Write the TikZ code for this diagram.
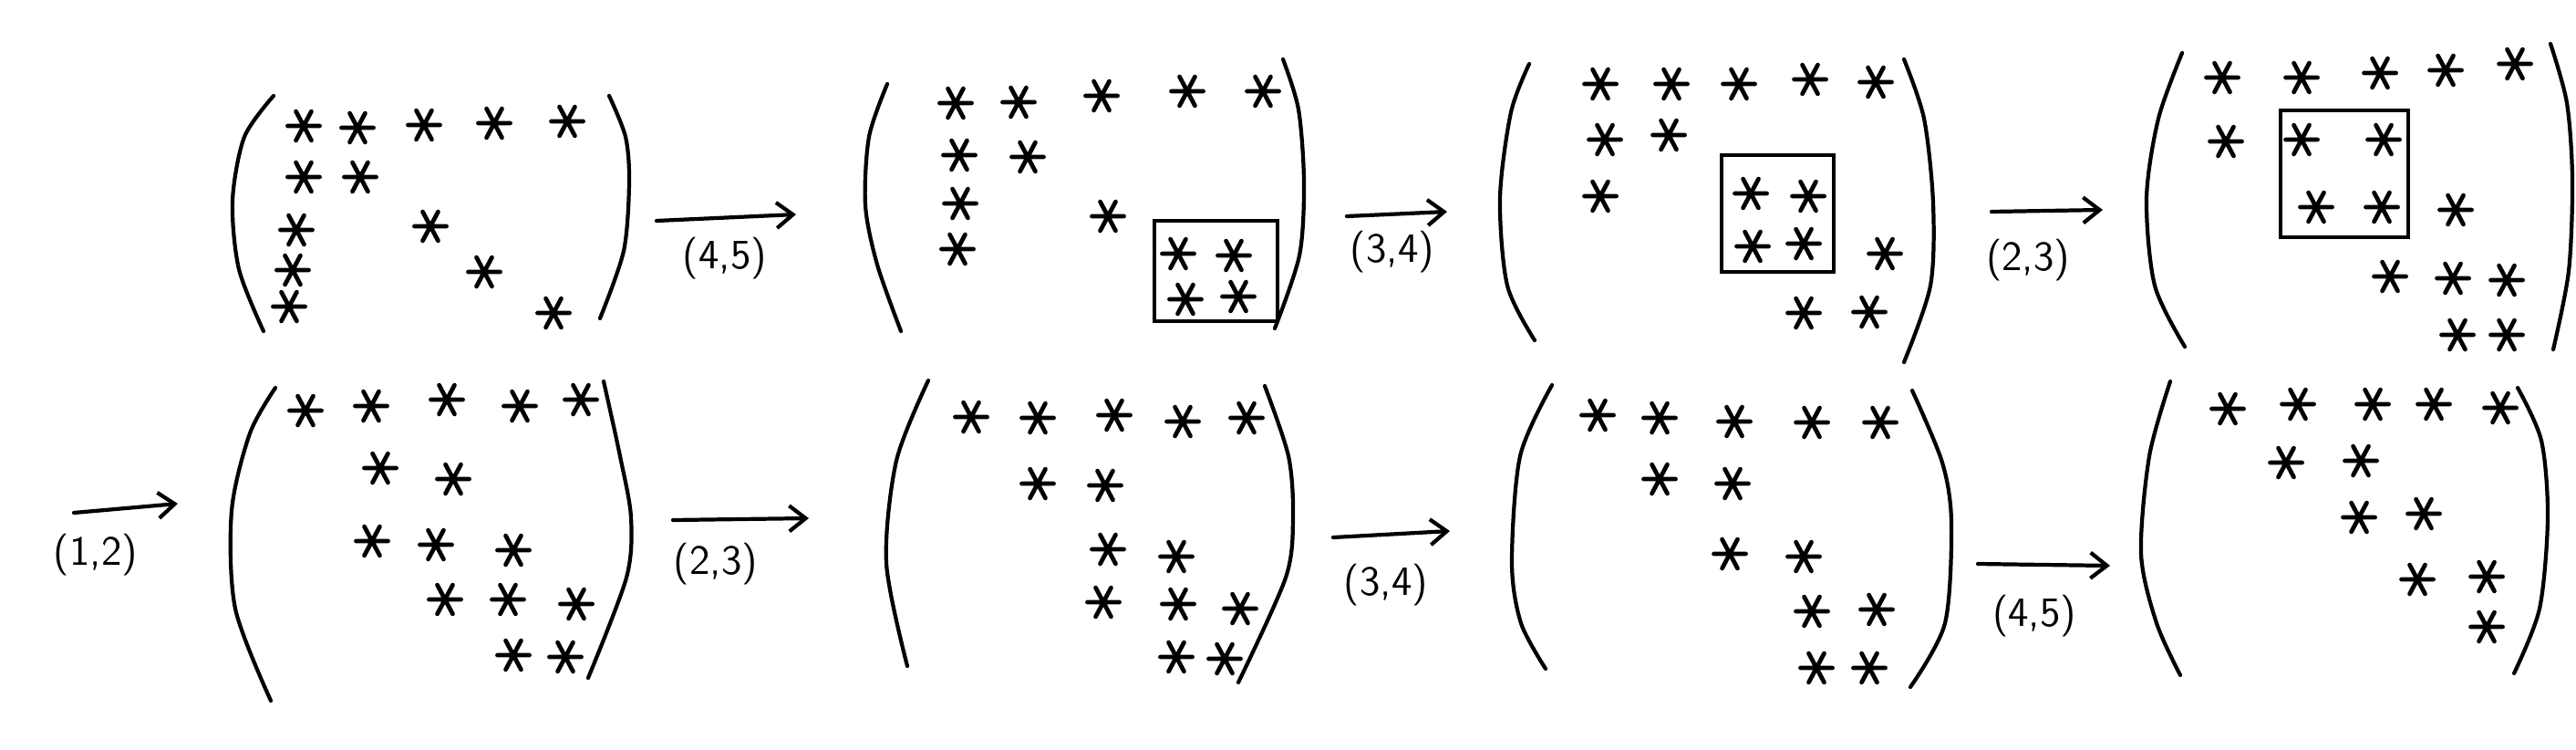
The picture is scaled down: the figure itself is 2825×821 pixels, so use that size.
\documentclass[tikz,border=0pt]{standalone}
\usepackage{tikz}
\usetikzlibrary{arrows.meta}

\tikzset{
  ast/.pic={\draw[line width=1.35pt, line cap=round] (-1.75mm,0) -- (1.75mm,0) (62:1.8mm) -- (242:1.8mm) (118:1.8mm) -- (298:1.8mm);},
  paren/.style={line width=1.2pt, line cap=round},
  blockbox/.style={line width=1.1pt},
  givens/.style={line width=1.2pt, line cap=round, -{Straight Barb[length=1.8mm,width=2.8mm]}},
  pair/.style={font=\sffamily\fontsize{13}{13}\selectfont, inner sep=1pt}
}

\begin{document}
\begin{tikzpicture}[x=0.01cm, y=-0.01cm]
			\useasboundingbox (0,0) rectangle (2825,821);
			
			% top row
			\draw[paren] plot[smooth] coordinates {(300,105) (268,150) (255,220) (262,295) (289,363)};
			\draw[paren] plot[smooth] coordinates {(668,105) (686,150) (690,200) (684,275) (658,349)};
			\foreach \x/\y in {333/138, 392/140, 465/137, 542/135, 622/133, 333/194, 395/194, 325/252, 472/248, 321/296, 531/298, 317/336, 607/343}
				\pic at (\x,\y) {ast};
			
			\coordinate (s1) at (720,242);
			\coordinate (e1) at (873,235);
			\draw[givens] (s1) -- (e1);
			\node[pair] (p1) at (795,283) {(4,5)};
			
			\draw[paren] plot[smooth] coordinates {(973,92) (953,150) (949,225) (962,290) (988,363)};
			\draw[paren] plot[smooth] coordinates {(1407,65) (1424,120) (1430,200) (1425,280) (1398,360)};
			\foreach \x/\y in {1048/113, 1117/112, 1208/105, 1302/100, 1385/100, 1052/170, 1127/172, 1053/223, 1215/237, 1050/273, 1292/278, 1353/280, 1300/328, 1358/325}
				\pic at (\x,\y) {ast};
			\draw[blockbox] (1266,242) rectangle (1401,352);
			
			\coordinate (s2) at (1477,237);
			\coordinate (e2) at (1587,232);
			\draw[givens] (s2) -- (e2);
			\node[pair] (p2) at (1527,276) {(3,4)};
			
			\draw[paren] plot[smooth] coordinates {(1677,70) (1657,123) (1645,217) (1653,313) (1683,373)};
			\draw[paren] plot[smooth] coordinates {(2088,65) (2110,130) (2120,223) (2117,313) (2088,397)};
			\foreach \x/\y in {1755/92, 1833/92, 1907/92, 1985/87, 2057/90, 1760/153, 1830/148, 1755/215, 1920/212, 1983/215, 1922/270, 1978/267, 2067/278, 1978/343, 2050/342}
				\pic at (\x,\y) {ast};
			\draw[blockbox] (1888,170) rectangle (2011,298);
			
			\coordinate (s3) at (2184,232);
			\coordinate (e3) at (2306,230);
			\draw[givens] (s3) -- (e3);
			\node[pair] (p3) at (2224,285) {(2,3)};
			
			\draw[paren] plot[smooth] coordinates {(2393,58) (2367,130) (2354,217) (2363,313) (2396,380)};
			\draw[paren] plot[smooth] coordinates {(2797,48) (2815,113) (2821,197) (2817,297) (2800,383)};
			\foreach \x/\y in {2437/85, 2524/85, 2610/80, 2682/77, 2758/70, 2441/155, 2524/153, 2614/153, 2540/227, 2612/227, 2693/230, 2621/303, 2690/305, 2749/307, 2695/367, 2749/367}
				\pic at (\x,\y) {ast};
			\draw[blockbox] (2501,121) rectangle (2641,260);
			
			% bottom row
			\coordinate (s4) at (81,562);
			\coordinate (e4) at (195,552);
			\draw[givens] (s4) -- (e4);
			\node[pair] (p4) at (105,608) {(1,2)};
			
			\draw[paren] plot[smooth] coordinates {(302,425) (274,475) (254,560) (258,667) (297,768)};
			\draw[paren] plot[smooth] coordinates {(662,418) (680,500) (692,567) (687,633) (645,743)};
			\foreach \x/\y in {335/450, 407/445, 490/438, 570/445, 637/438, 417/513, 497/525, 408/593, 478/597, 563/603, 488/657, 557/657, 632/662, 563/718, 620/720}
				\pic at (\x,\y) {ast};
			
			\coordinate (s5) at (738,570);
			\coordinate (e5) at (887,568);
			\draw[givens] (s5) -- (e5);
			\node[pair] (p5) at (785,618) {(2,3)};
			
			\draw[paren] plot[smooth] coordinates {(1018,417) (983,505) (972,617) (995,730)};
			\draw[paren] plot[smooth] coordinates {(1387,423) (1413,500) (1418,567) (1410,633) (1358,748)};
			\foreach \x/\y in {1065/457, 1138/458, 1222/455, 1297/462, 1367/458, 1138/530, 1212/532, 1215/602, 1290/610, 1210/660, 1292/662, 1360/667, 1290/720, 1343/722}
				\pic at (\x,\y) {ast};
			
			\coordinate (s6) at (1462,589);
			\coordinate (e6) at (1590,582);
			\draw[givens] (s6) -- (e6);
			\node[pair] (p6) at (1520,641) {(3,4)};
			
			\draw[paren] plot[smooth] coordinates {(1702,422) (1667,500) (1658,617) (1668,683) (1695,733)};
			\draw[paren] plot[smooth] coordinates {(2097,428) (2130,507) (2140,573) (2133,683) (2095,753)};
			\foreach \x/\y in {1752/455, 1820/458, 1902/462, 1987/463, 2062/463, 1820/525, 1900/530, 1897/607, 1978/610, 1987/670, 2058/668, 1992/732, 2050/732}
				\pic at (\x,\y) {ast};
			
			\coordinate (s7) at (2169,618);
			\coordinate (e7) at (2314,620);
			\draw[givens] (s7) -- (e7);
			\node[pair] (p7) at (2231,675) {(4,5)};
			
			\draw[paren] plot[smooth] coordinates {(2380,418) (2357,500) (2348,607) (2365,683) (2391,740)};
			\draw[paren] plot[smooth] coordinates {(2761,425) (2787,483) (2794,567) (2785,667) (2757,738)};
			\foreach \x/\y in {2443/448, 2520/443, 2602/443, 2669/443, 2742/447, 2507/507, 2589/505, 2587/567, 2658/563, 2651/635, 2727/632, 2727/687}
				\pic at (\x,\y) {ast};
			
			\end{tikzpicture}
\end{document}
